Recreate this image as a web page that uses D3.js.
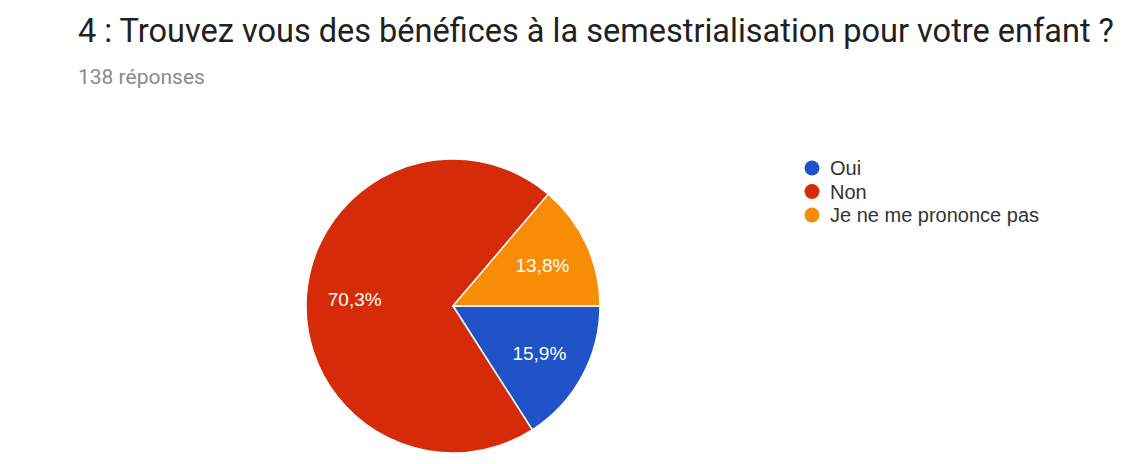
<!DOCTYPE html>
<html>
<head>
<meta charset="utf-8">
<script src="https://cdn.jsdelivr.net/npm/d3@7"></script>
<style>
  body { margin: 0; background: #fff; }
  svg { display: block; }
</style>
</head>
<body>
<div id="chart"></div>
<script>
// data (138 answers)
const categories = ["Oui", "Non", "Je ne me prononce pas"];
const counts = [22, 97, 19];
const pctLabels = ["15,9%", "70,3%", "13,8%"];
const colors = ["#2052c8", "#d62b08", "#f78d05"];

const width = 1133, height = 464;
const cx = 453, cy = 306, radius = 147;

const svg = d3.select("#chart").append("svg")
    .attr("width", width)
    .attr("height", height);

// title + count
svg.append("text")
    .attr("x", 78).attr("y", 42)
    .attr("font-family", "Roboto")
    .attr("font-size", 32.5)
    .attr("fill", "#212121")
    .text("4 : Trouvez vous des bénéfices à la semestrialisation pour votre enfant ?");

svg.append("text")
    .attr("x", 78).attr("y", 84)
    .attr("font-family", "Roboto")
    .attr("font-size", 21)
    .attr("fill", "#8a8a8a")
    .text(counts.reduce((a, b) => a + b, 0) + " réponses");

// pie, starting at 3 o'clock and going clockwise
const pie = d3.pie()
    .sort(null)
    .startAngle(Math.PI / 2)
    .endAngle(Math.PI / 2 + 2 * Math.PI)
    .value(d => d);

const arcs = pie(counts);
const arc = d3.arc().innerRadius(0).outerRadius(radius);
const labelArc = d3.arc().innerRadius(radius * 0.67).outerRadius(radius * 0.67);

const g = svg.append("g").attr("transform", `translate(${cx},${cy})`);

g.selectAll("path")
    .data(arcs)
    .join("path")
    .attr("d", arc)
    .attr("fill", (d, i) => colors[i])
    .attr("stroke", "#fff")
    .attr("stroke-width", 1.5);

g.selectAll("text")
    .data(arcs)
    .join("text")
    .attr("transform", d => `translate(${labelArc.centroid(d)})`)
    .attr("text-anchor", "middle")
    .attr("dy", "0.36em")
    .attr("font-family", "Liberation Sans, Arial")
    .attr("font-size", 19)
    .attr("fill", "#fff")
    .text((d, i) => pctLabels[i]);

// legend
const legend = svg.append("g").attr("transform", "translate(812,168)");
const item = legend.selectAll("g")
    .data(categories)
    .join("g")
    .attr("transform", (d, i) => `translate(0,${i * 23.5})`);

item.append("circle")
    .attr("r", 7.5)
    .attr("fill", (d, i) => colors[i]);

item.append("text")
    .attr("x", 18)
    .attr("dy", "0.36em")
    .attr("font-family", "Liberation Sans, Arial")
    .attr("font-size", 20)
    .attr("fill", "#333")
    .text(d => d);
</script>
</body>
</html>
